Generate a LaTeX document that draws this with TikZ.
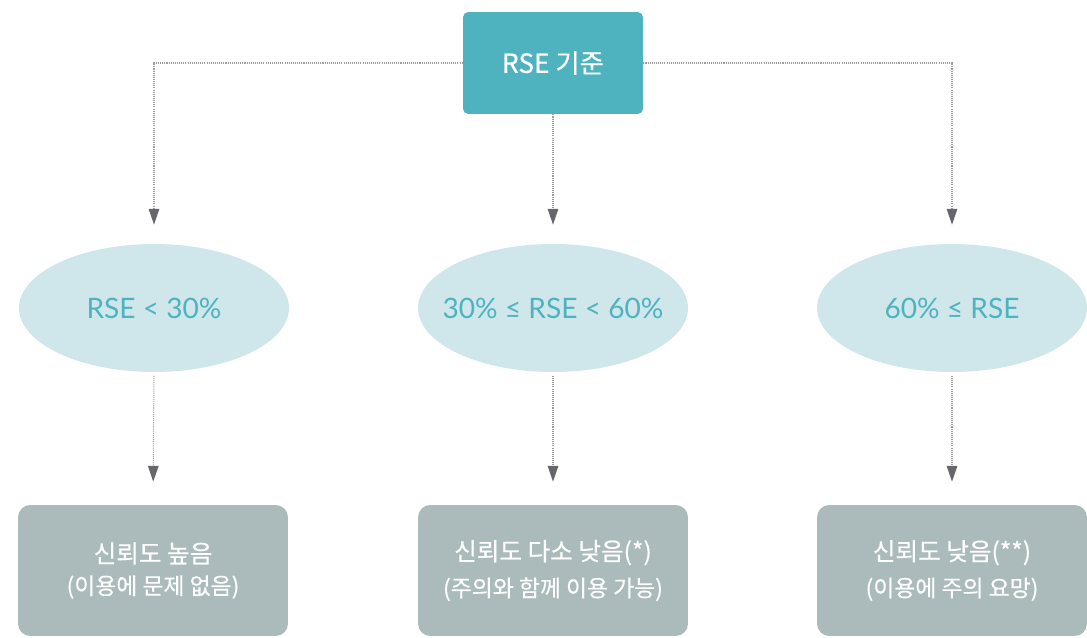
\documentclass[tikz,border=0pt]{standalone}
\usepackage{fontspec}
\setmainfont{Noto Sans CJK KR}
\newfontfamily\medfont[FakeBold=0.5]{Noto Sans CJK KR}
\newfontfamily\latofont{Lato}
\usetikzlibrary{arrows.meta,shapes.geometric}

\definecolor{rseteal}{HTML}{4EB3BF}
\definecolor{rsepale}{HTML}{CFE7EB}
\definecolor{rsegray}{HTML}{ABBBBB}
\definecolor{linegray}{HTML}{9C9C9C}
\definecolor{tipgray}{HTML}{66676B}

\tikzset{
  topbox/.style={fill=rseteal, rounded corners=3pt, minimum width=3.6cm,
    minimum height=2.04cm, inner sep=0pt, text=white,
    font=\medfont\fontsize{15}{18}\selectfont},
  rangeell/.style={ellipse, fill=rsepale, minimum width=5.4cm,
    minimum height=2.56cm, inner xsep=-1.5cm, inner ysep=0pt, text=rseteal,
    font=\latofont\fontsize{16}{18}\selectfont},
  resultbox/.style={fill=rsegray, rounded corners=7pt, minimum width=5.4cm,
    minimum height=2.62cm, inner sep=0pt, text=white, align=center,
    font=\medfont},
  link/.style={draw=linegray, line width=0.6pt,
    dash pattern=on 0.6pt off 0.6pt,
    -{Triangle[length=9pt,width=6pt,color=tipgray]}}
}

\begin{document}
\begin{tikzpicture}[x=0.02cm,y=-0.02cm]

% Canvas
\useasboundingbox (0,0) rectangle (1087,638);

% Parameters
\def\yEll{308}   % row of the ellipses
\def\yRes{570.5} % row of the result boxes

% Criterion
\node[topbox] (crit) at (553,63) {RSE 기준};

% Ranges
\node[rangeell] (low)  at (154,\yEll) {RSE < 30\%};
\node[rangeell] (mid)  at (553,\yEll) {30\% ≤ RSE < 60\%};
\node[rangeell] (high) at (952,\yEll) {60\% ≤ RSE};

% Results
\node[resultbox] (resLow) at (153,\yRes)
  {{\fontsize{14}{20}\selectfont 신뢰도 높음}\\[6pt]
   {\fontsize{13}{18}\selectfont (이용에 문제 없음)}};
\node[resultbox] (resMid) at (553,\yRes)
  {{\fontsize{14}{20}\selectfont 신뢰도 다소 낮음(*)}\\[6pt]
   {\fontsize{13}{18}\selectfont (주의와 함께 이용 가능)}};
\node[resultbox] (resHigh) at (952,\yRes)
  {{\fontsize{14}{20}\selectfont 신뢰도 낮음(**)}\\[6pt]
   {\fontsize{13}{18}\selectfont (이용에 주의 요망)}};

% Links from the criterion
\draw[link, shorten >=0.38cm] (crit.west) -| (low.north);
\draw[link, shorten >=0.38cm] (crit.south) -- (mid.north);
\draw[link, shorten >=0.38cm] (crit.east) -| (high.north);

% Links to the results
\draw[link, shorten <=2pt, shorten >=0.46cm] (low.south) -- (resLow.north);
\draw[link, shorten <=2pt, shorten >=0.46cm] (mid.south) -- (resMid.north);
\draw[link, shorten <=2pt, shorten >=0.46cm] (high.south) -- (resHigh.north);

\end{tikzpicture}
\end{document}
